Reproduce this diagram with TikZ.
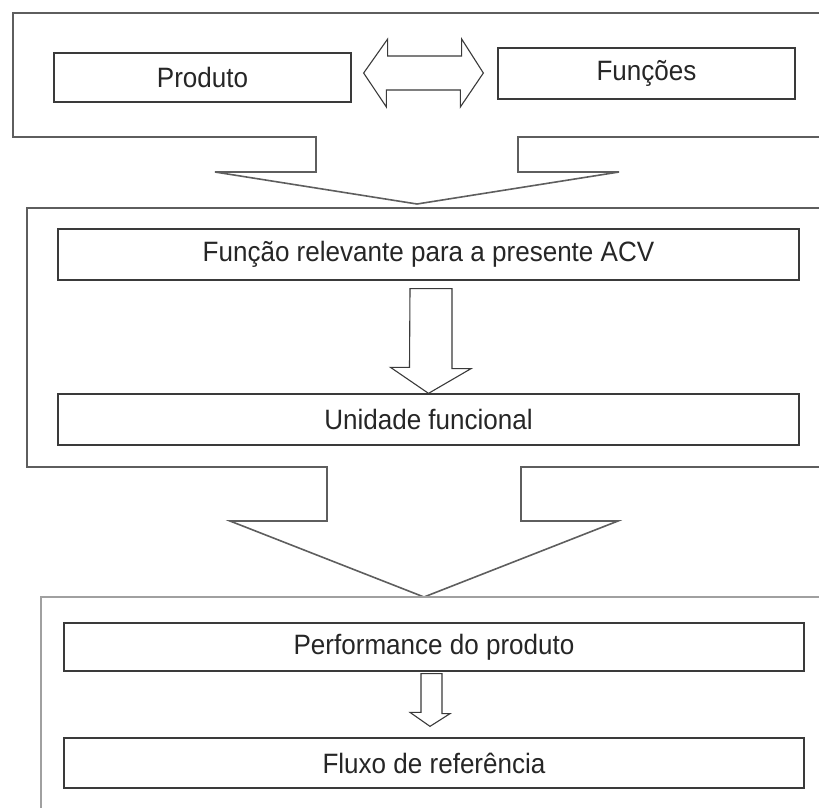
\documentclass[tikz,border=0pt]{standalone}
\usepackage{fontspec}
\setmainfont{Liberation Sans}[FakeStretch=0.93]
\usetikzlibrary{calc}
\definecolor{moldura}{HTML}{5E5E5E}
\definecolor{moldurac}{HTML}{A0A0A0}
\definecolor{traco}{HTML}{3A3A3A}

\begin{document}
\begin{tikzpicture}[x=1pt,y=-1pt,line join=miter]
	\tikzset{caixa/.style={draw=traco,line width=1.3pt,inner sep=0pt,minimum height=50pt,text=black!85,font=\fontsize{28}{32}\selectfont},
		seta/.style={draw=traco,line width=1.1pt,fill=white},
		quadro/.style={draw=moldura,line width=1.6pt}}
	\useasboundingbox (0,0) rectangle (819,807);
	
	% quadros com setas de chamada
	\draw[quadro] (830,13)--(13,13)--(13,137)--(316,137)--(316,172)--(215,172)--(417,204)--(619,172)--(518,172)--(518,137)--(830,137);
	\draw[quadro] (830,208)--(27,208)--(27,467)--(327,467)--(327,521)--(230,521)--(424,597)--(618,521)--(521,521)--(521,467)--(830,467);
	\draw[draw=moldurac,line width=1.2pt] (830,597)--(41,597)--(41,820);
	
	\node[caixa,minimum width=297pt,minimum height=49pt] (produto) at (202.5,77.5) {Produto};
	\node[caixa,minimum width=297pt,minimum height=51pt] (funcoes) at (646.5,73.5) {Funções};
	\node[caixa,minimum width=741pt,minimum height=51pt] (funcao) at (428.5,254.5) {Função relevante para a presente ACV};
	\node[caixa,minimum width=741pt,minimum height=51pt] (unidade) at (428.5,419.5) {Unidade funcional};
	\node[caixa,minimum width=740pt,minimum height=48pt] (perf) at (434,647) {Performance do produto};
	\node[caixa,minimum width=740pt,minimum height=50pt] (fluxo) at (434,763) {Fluxo de referência};
	
	% seta dupla
	\draw[seta] ($(produto.east)+(12,-4.5)$)--++(24,-34)--++(0,17)--++(74,0)--++(0,-17)--($(funcoes.west)+(-14,-0.5)$)--++(-23,34)--++(0,-17)--++(-74,0)--++(0,17)--cycle;
	
	% setas simples
	\draw[seta] (unidade.north)--++(-38,-26)--++(19,0)--($(funcao.south)+(-18.5,8)$)--++(42,0)--++(0,80)--++(19,0)--cycle;
	\draw[seta] ($(fluxo.north)+(-4,-11)$)--++(-20,-14)--++(11,0)--($(perf.south)+(-13,2)$)--++(21,0)--++(0,40)--++(8,0)--cycle;
\end{tikzpicture}
\end{document}
